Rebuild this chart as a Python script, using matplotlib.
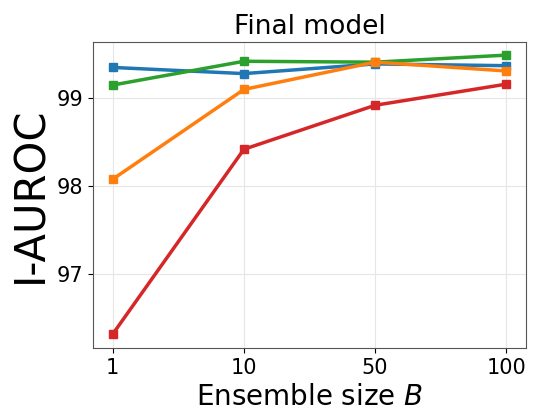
import matplotlib
matplotlib.use("Agg")
import matplotlib.pyplot as plt

sizes = ["1", "10", "50", "100"]
blue = [99.35, 99.28, 99.39, 99.37]
green = [99.15, 99.42, 99.41, 99.49]
orange = [98.08, 99.10, 99.41, 99.31]
red = [96.32, 98.42, 98.92, 99.16]

fig, ax = plt.subplots(figsize=(5.35, 4.11), dpi=100)
x = list(range(len(sizes)))
for vals, c in [(blue, "#1f77b4"), (green, "#2ca02c"), (orange, "#ff7f0e"), (red, "#d62728")]:
    ax.plot(x, vals, color=c, lw=2.5, marker="s", ms=6)

ax.set_xticks(x)
ax.set_xticklabels(sizes)
ax.set_yticks([97, 98, 99])
ax.set_ylim(96.16, 99.64)
ax.set_xlim(-0.15, 3.15)
ax.tick_params(labelsize=15)
ax.grid(True, color="#e6e6e6", lw=0.8)
for s in ax.spines.values():
    s.set_color("#555555")
ax.set_title("Final model", fontsize=19)
ax.set_xlabel("Ensemble size $B$", fontsize=20)
ax.set_ylabel("I-AUROC", fontsize=30)
fig.subplots_adjust(left=0.174, right=0.983, top=0.898, bottom=0.153)
fig.savefig("out.png")
